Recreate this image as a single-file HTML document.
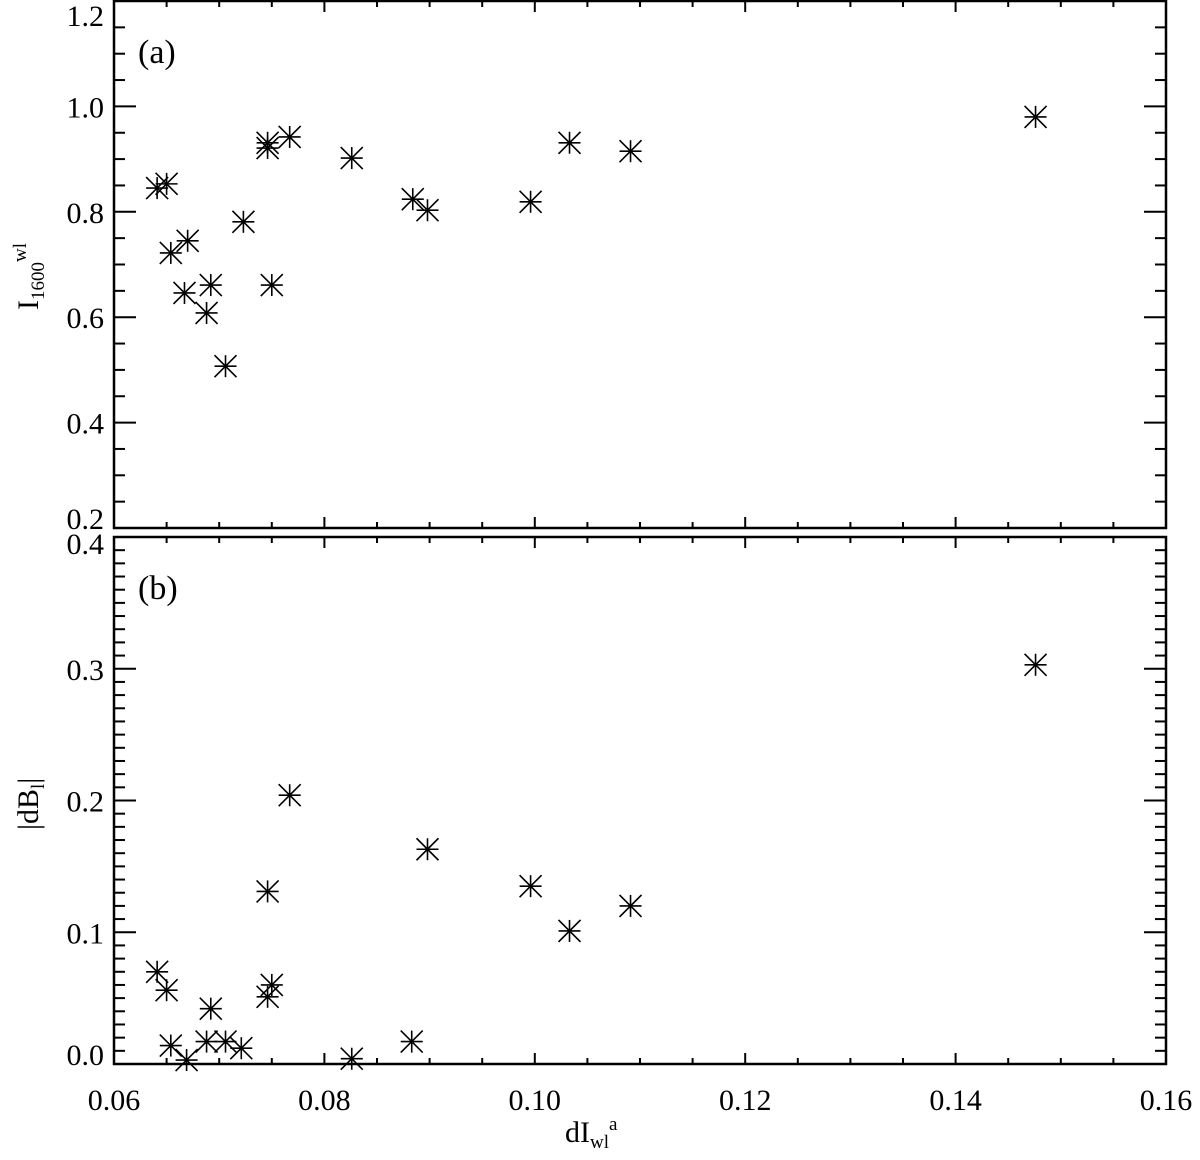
<!DOCTYPE html>
<html><head><meta charset="utf-8"><style>
html,body{margin:0;padding:0;background:#fff;}
svg text{font-family:"Liberation Serif",serif;fill:#000;}
</style></head><body>
<svg id="chart" width="1200" height="1155" viewBox="0 0 1200 1155" xmlns="http://www.w3.org/2000/svg">
<g id="axes"></g><g id="marks"></g>
</svg>
<script>
const xTicks=[0.06,0.08,0.10,0.12,0.14,0.16];
const xTickLabels=["0.06","0.08","0.10","0.12","0.14","0.16"];
const topYTicks=[0.2,0.4,0.6,0.8,1.0,1.2];
const topYLabels=["0.2","0.4","0.6","0.8","1.0","1.2"];
const botYTicks=[0.0,0.1,0.2,0.3,0.4];
const botYLabels=["0.0","0.1","0.2","0.3","0.4"];
const topX=[0.0641,0.0650,0.0670,0.0654,0.0667,0.0692,0.0688,0.0723,0.0750,0.0706,0.0746,0.0746,0.0767,0.0826,0.0884,0.0898,0.0996,0.1033,0.1091,0.1476];
const topY=[0.845,0.853,0.745,0.722,0.646,0.661,0.608,0.781,0.661,0.507,0.931,0.921,0.942,0.902,0.824,0.803,0.819,0.931,0.915,0.980];
const botX=[0.0641,0.0650,0.0654,0.0669,0.0688,0.0692,0.0706,0.0721,0.0746,0.0746,0.0750,0.0767,0.0826,0.0883,0.0898,0.0996,0.1033,0.1091,0.1476];
const botY=[0.070,0.056,0.014,0.003,0.017,0.042,0.017,0.012,0.051,0.131,0.060,0.204,0.004,0.017,0.163,0.135,0.101,0.120,0.303];

const NS="http://www.w3.org/2000/svg";
const L=114,R=1166;
const xs=v=>L+(v-0.06)/0.10*(R-L);
const P1={t:1,b:528,min:0.2,max:1.2};
const P2={t:537,b:1064,min:0.0,max:0.4};
const ys=(p,v)=>p.b-(v-p.min)/(p.max-p.min)*(p.b-p.t);
const axes=document.getElementById('axes'),marks=document.getElementById('marks');
function ln(g,x1,y1,x2,y2,w){const e=document.createElementNS(NS,'line');e.setAttribute('x1',x1);e.setAttribute('y1',y1);e.setAttribute('x2',x2);e.setAttribute('y2',y2);e.setAttribute('stroke','#000');e.setAttribute('stroke-width',w||2);g.appendChild(e);return e;}
function tx(g,x,y,s,anchor,size){const e=document.createElementNS(NS,'text');e.setAttribute('x',x);e.setAttribute('y',y);e.setAttribute('text-anchor',anchor||'middle');e.setAttribute('font-size',size||30);e.textContent=s;g.appendChild(e);return e;}

function panel(p,yt,yl,name,label,minorStep){
  const g=document.createElementNS(NS,'g');
  
  
  axes.appendChild(g);
  const r=document.createElementNS(NS,'rect');
  r.setAttribute('x',L);r.setAttribute('y',p.t);r.setAttribute('width',R-L);r.setAttribute('height',p.b-p.t);
  r.setAttribute('fill','none');r.setAttribute('stroke','#000');r.setAttribute('stroke-width',2.5);
  
  
  g.appendChild(r);
  for(let i=0;i<=20;i++){const v=0.06+i*0.005;const x=xs(v);const len=(i%4===0)?11:6;
    ln(g,x,p.b,x,p.b-len);ln(g,x,p.t,x,p.t+len);}
  const n=Math.round((p.max-p.min)/minorStep);
  const per=Math.round((yt[1]-yt[0])/minorStep);
  for(let i=0;i<=n;i++){const v=p.min+i*minorStep;const y=ys(p,v);const len=(i%per===0)?22:11;
    ln(g,L,y,L+len,y);ln(g,R,y,R-len,y);}
  yt.forEach((v,i)=>{let y=ys(p,v)+11;if(i===0)y-=10;if(i===yt.length-1&&p===P1)y+=14;if(i===yt.length-1&&p===P2)y+=6;
    const t=tx(g,104,y,yl[i],'end');
    
    });
  const pl=tx(g,138,p.t+62,label,'start',34);
  
  
}
panel(P1,topYTicks,topYLabels,'panel-a','(a)',0.05);
panel(P2,botYTicks,botYLabels,'panel-b','(b)',0.01);

xTicks.forEach((v,i)=>{const t=tx(axes,xs(v),1110,xTickLabels[i]);
  
  });

function star(cx,cy){const g=document.createElementNS(NS,'g');
  
  
  const s=11,d=11;
  ln(g,cx-s,cy,cx+s,cy,1.6);ln(g,cx,cy-s,cx,cy+s,1.6);
  ln(g,cx-d,cy-d,cx+d,cy+d,1.6);ln(g,cx-d,cy+d,cx+d,cy-d,1.6);
  marks.appendChild(g);}
topX.forEach((v,i)=>star(xs(v),ys(P1,topY[i])));
botX.forEach((v,i)=>star(xs(v),ys(P2,botY[i])));
</script>
<svg style="position:absolute;left:0;top:0" width="1200" height="1155">
<text x="565" y="1142" font-size="30" font-family="Liberation Serif, serif">dI<tspan font-size="19" dy="6">wl</tspan><tspan font-size="19" dy="-18">a</tspan></text>
<g transform="translate(38,260) rotate(-90)"><text x="-50" y="0" font-size="30" font-family="Liberation Serif, serif">I<tspan font-size="19" dy="6">1600</tspan><tspan font-size="19" dy="-18">wl</tspan></text></g>
<g transform="translate(38,800) rotate(-90)"><text x="-30" y="0" font-size="30" font-family="Liberation Serif, serif">|dB<tspan font-size="19" dy="6">l</tspan><tspan dy="-6">|</tspan></text></g>
</svg>
</body></html>
